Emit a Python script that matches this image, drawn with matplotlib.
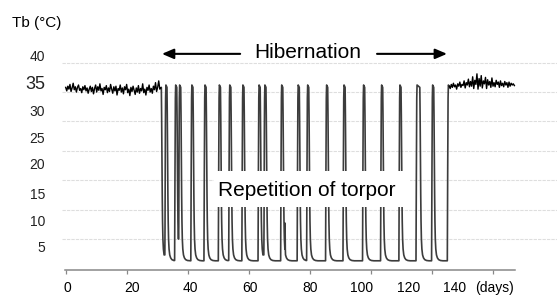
import matplotlib
matplotlib.use('Agg')
import matplotlib.pyplot as plt
import matplotlib.patches as mpatches
import numpy as np

plt.rcParams['font.family'] = ['Liberation Sans', 'DejaVu Sans']

# ---- data ---------------------------------------------------------------
STEP = 0.35  # days between samples in the euthermic stretches

# euthermic body temperature before hibernation (day 0 .. ~31)
pre_tb = [
    35.8, 35.2, 36.0, 35.5, 36.3, 35.1, 35.7, 36.5, 35.4, 35.9,
    35.0, 35.8, 36.2, 35.3, 35.6, 34.9, 35.9, 35.4, 36.1, 35.2,
    35.7, 34.8, 35.5, 36.0, 35.1, 35.8, 34.7, 35.6, 36.2, 35.0,
    35.9, 35.3, 36.4, 35.2, 35.6, 34.6, 35.8, 35.4, 36.1, 34.9,
    35.7, 35.1, 36.3, 35.5, 34.8, 35.9, 35.2, 36.0, 34.5, 35.6,
    35.3, 36.2, 35.0, 35.7, 34.7, 35.9, 35.4, 36.3, 34.9, 35.5,
    34.4, 35.8, 35.1, 36.0, 35.3, 34.6, 35.7, 35.0, 36.1, 34.8,
    35.6, 35.2, 36.4, 34.9, 35.5, 34.5, 35.8, 35.3, 36.2, 35.0,
    35.6, 34.8, 36.0, 35.4, 36.6, 35.1, 35.8, 36.9, 35.5, 35.7,
]

# euthermic body temperature after hibernation (day ~125.5 .. 147)
POST_START = 125.5
post_tb = [
    36.0, 35.6, 36.3, 35.8, 36.5, 35.9, 36.2, 35.5, 36.4, 36.0,
    36.7, 35.8, 36.3, 36.1, 36.9, 35.7, 36.6, 36.2, 37.2, 35.9,
    36.8, 36.0, 37.6, 35.6, 37.0, 36.3, 38.1, 35.5, 37.3, 36.0,
    37.8, 35.7, 36.9, 36.4, 37.5, 35.6, 37.1, 36.2, 36.8, 35.8,
    37.4, 36.0, 36.6, 35.9, 37.0, 36.3, 36.7, 35.8, 36.9, 36.1,
    36.5, 35.9, 36.8, 36.2, 36.6, 35.8, 36.7, 36.0, 36.5, 36.2,
    36.4, 36.1,
]

entry_day = 31.3      # first drop into torpor
# days of the interbout arousal peaks
arousal_peaks = [32.8, 36.0, 37.3, 41.3, 45.6, 50.3, 53.7, 58.0, 63.3, 65.2,
                 70.7, 76.1, 79.2, 85.4, 91.1, 97.5, 103.4, 109.4, 115.0, 120.1]
# time spent at the peak before re-entering torpor (days)
arousal_hold = [0.35, 0.35, 0.35, 0.35, 0.35, 0.35, 0.35, 0.35, 0.35, 0.35,
                0.35, 0.35, 0.35, 0.35, 0.35, 0.35, 0.35, 0.35, 0.9, 0.35]
final_arousal = 125.25  # end of hibernation

# partial arousal blips (day, peak Tb)
blip_days = [71.8]
blip_tb = [12.7]

# shape of one arousal: rise (days relative to peak) and re-entry cooling
rise_dt = [-0.29, -0.23, -0.17, -0.10, 0.0]
rise_tb = [12.0, 21.0, 29.0, 34.0, 36.2]
fall_dt = [0.0, 0.1, 0.2, 0.3, 0.4, 0.52, 0.68, 0.9, 1.2, 1.6, 2.2, 3.0]
fall_tb = [35.8, 31.0, 24.0, 17.5, 13.0, 10.0, 8.3, 7.3, 6.8, 6.5, 6.35, 6.3]

xtick_vals = [0, 20, 40, 60, 80, 100, 120, 140]
ytick_vals = [40, 35, 30, 25, 20, 15, 10, 5]
grid_vals = [10, 15, 20, 25, 30, 35, 40]

# label positions as pasted in the original figure (not under the ticks)
XLABEL_POS = [0.4, 21.6, 40.9, 60.3, 80.0, 96.7, 112.3, 127.4]
YLABEL_POS = [41.2, 36.6, 31.8, 27.2, 22.8, 17.8, 13.2, 8.8]


def build_torpor_trace(start_t, start_v):
    t, v = [start_t], [start_v]
    fall_start = entry_day
    peaks = arousal_peaks + [final_arousal]
    holds = arousal_hold + [0.0]
    for pk, hold in zip(peaks, holds):
        rise_start = pk + rise_dt[0] - 0.06
        for dt, tb in zip(fall_dt, fall_tb):
            if fall_start + dt >= rise_start:
                break
            t.append(fall_start + dt)
            v.append(tb)
        cur = v[-1]
        t.append(rise_start)
        v.append(cur)
        for dt, tb in zip(rise_dt, rise_tb):
            if tb > cur:
                t.append(pk + dt)
                v.append(tb)
        fall_start = pk + hold
    t = np.array(t)
    v = np.array(v)
    for bd, bt in zip(blip_days, blip_tb):
        i = np.searchsorted(t, bd)
        base = v[i - 1]
        t = np.insert(t, i, [bd - 0.08, bd, bd + 0.08])
        v = np.insert(v, i, [base, bt, base])
    return t, v


pre_days = np.arange(len(pre_tb)) * STEP
post_days = POST_START + np.arange(len(post_tb)) * STEP
tor_t, tor_v = build_torpor_trace(pre_days[-1], pre_tb[-1])
tor_t = np.append(tor_t, post_days[0])
tor_v = np.append(tor_v, post_tb[0])

# ---- figure ----------------------------------------------------------------
fig = plt.figure(figsize=(5.57, 2.95), dpi=100)
ax = fig.add_axes([0.1113, 0.0847, 0.8887, 0.8224])
ax.set_xlim(-1.21, 160.8)
ax.set_ylim(4.73, 46.0)

ax.plot(tor_t, tor_v, color='#3c3c3c', lw=1.2, zorder=2, solid_joinstyle='round')
ax.plot(pre_days, pre_tb, color='black', lw=1.0, zorder=2)
ax.plot(post_days, post_tb, color='black', lw=1.0, zorder=2)

# grid
for g in grid_vals:
    ax.axhline(g, color='#dedede', lw=0.8, ls=(0, (3, 1)), zorder=0)

# axes styling
for s in ['top', 'right', 'left']:
    ax.spines[s].set_visible(False)
ax.spines['bottom'].set_color('#888888')
ax.spines['bottom'].set_linewidth(1.1)
ax.spines['bottom'].set_bounds(-0.2, 147.1)

ax.xaxis.remove_overlapping_locs = False
ax.set_xticks(xtick_vals, labels=[''] * len(xtick_vals))
ax.tick_params(axis='x', which='major', length=3, color='#888888', width=0.9)
ax.set_xticks(XLABEL_POS, labels=[str(v) for v in xtick_vals], minor=True)
ax.tick_params(axis='x', which='minor', length=0, pad=8, labelsize=10)

ax.set_yticks(YLABEL_POS, labels=[str(v) for v in ytick_vals])
ax.tick_params(axis='y', length=0, pad=12, labelsize=10, labelcolor='#222222')
for lab in ax.get_yticklabels():
    if lab.get_text() == '35':
        lab.set_fontsize(13)

# annotations
ax.text(79.2, 41.65, 'Hibernation', fontsize=15, ha='center', va='center')
arrow = dict(arrowstyle='-|>,head_length=0.7,head_width=0.3', lw=1.5,
             color='black', shrinkA=0, shrinkB=0, mutation_scale=10)
ax.annotate('', xy=(31.5, 41.5), xytext=(57.1, 41.5), arrowprops=arrow)
ax.annotate('', xy=(124.8, 41.5), xytext=(101.9, 41.5), arrowprops=arrow)

ax.add_patch(mpatches.Rectangle((48.5, 15.4), 112.7 - 48.5, 21.6 - 15.4,
                                facecolor='white', edgecolor='none', zorder=3))
ax.text(78.8, 18.3, 'Repetition of torpor', fontsize=15, ha='center',
        va='center', zorder=4)

fig.text(12 / 557, 1 - 23 / 295, 'Tb (°C)', fontsize=11, ha='left', va='center')
fig.text(494 / 557, 1 - 288 / 295, '(days)', fontsize=10, ha='center',
         va='center')

fig.savefig('out.png', dpi=100)
